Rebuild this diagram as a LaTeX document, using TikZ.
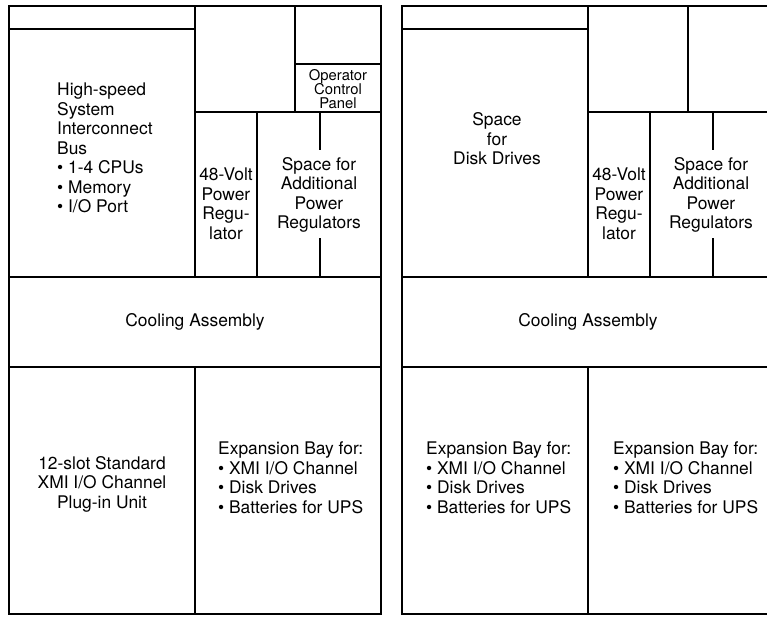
\documentclass[tikz,border=0pt]{standalone}
\usepackage{fontspec}
\setmainfont{TeX Gyre Heros}
\tikzset{
  frame/.style={line width=1.7pt},
  part/.style={line width=1.1pt},
  lbl/.style={inner sep=0pt, font=\fontsize{17.4}{19.5}\selectfont},
  small/.style={inner sep=0pt, font=\fontsize{14.8}{14.3}\selectfont}
}
\begin{document}
\begin{tikzpicture}[x=1pt, y=-1pt]
\clip (0,0) rectangle (767,616);
\fill[white] (0,0) rectangle (767,616);
\foreach \dx in {0,393} {
  \begin{scope}[xshift=\dx pt]
  \draw[frame] (9,6) rectangle (381,614);
  \draw[part] (9,29) -- (195,29);
  \draw[part] (195,6) -- (195,277);
  \draw[part] (295,6) -- (295,112);
  \draw[part] (195,112) -- (381,112);
  \draw[part] (257,112) -- (257,277);
  \draw[part] (320,112) -- (320,150);
  \draw[part] (320,238) -- (320,277);
  \draw[part] (9,277) -- (381,277);
  \draw[part] (9,367) -- (381,367);
  \draw[part] (195,367) -- (195,614);
  \end{scope}
}
\draw[part] (295,64) -- (381,64);
% left cabinet
\node[lbl, align=left, anchor=west] (bus) at (57,148)
  {High-speed\\System\\Interconnect\\Bus\\\textbullet\ 1-4 CPUs\\\textbullet\ Memory\\\textbullet\ I/O Port};
\node[small, align=center] (ocp) at (338,89) {Operator\\Control\\Panel};
\node[lbl, align=center] (reg) at (226,204) {48-Volt\\Power\\Regu-\\lator};
\node[lbl, align=center] (spare) at (319,195) {Space for\\Additional\\Power\\Regulators};
\node[lbl] (cool) at (195,322) {Cooling Assembly};
\node[lbl, align=center] (xmi) at (102,484) {12-slot Standard\\XMI I/O Channel\\Plug-in Unit};
\node[lbl, align=left, anchor=west] (bay) at (218,478)
  {Expansion Bay for:\\\textbullet\ XMI I/O Channel\\\textbullet\ Disk Drives\\\textbullet\ Batteries for UPS};
% right cabinet
\node[lbl, align=center] (disk) at (497,139) {Space\\for\\Disk Drives};
\node[lbl, align=center] (reg2) at (619,204) {48-Volt\\Power\\Regu-\\lator};
\node[lbl, align=center] (spare2) at (711,195) {Space for\\Additional\\Power\\Regulators};
\node[lbl] (cool2) at (588,322) {Cooling Assembly};
\node[lbl, align=left, anchor=west] (bay2) at (426,478)
  {Expansion Bay for:\\\textbullet\ XMI I/O Channel\\\textbullet\ Disk Drives\\\textbullet\ Batteries for UPS};
\node[lbl, align=left, anchor=west] (bay3) at (613,478)
  {Expansion Bay for:\\\textbullet\ XMI I/O Channel\\\textbullet\ Disk Drives\\\textbullet\ Batteries for UPS};
\end{tikzpicture}
\end{document}
